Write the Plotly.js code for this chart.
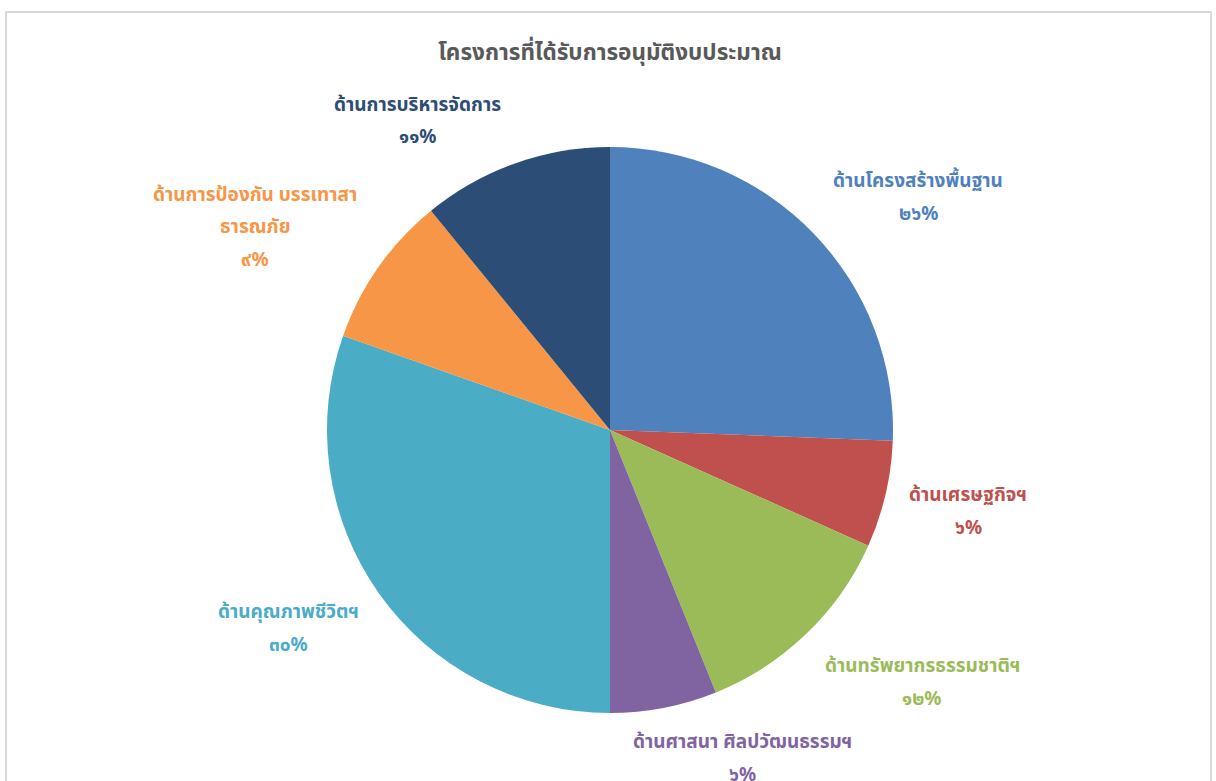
<!DOCTYPE html>
<html>
<head>
<meta charset="utf-8">
<script src="https://cdn.plot.ly/plotly-3.0.1.min.js"></script>
<style>
  html, body { margin: 0; padding: 0; background: #ffffff; overflow: hidden; }
  #frame { position: absolute; left: 5px; top: 11px; width: 1207px; height: 800px;
           border: 2px solid #d9d9d9; box-sizing: border-box; }
  #chart { position: absolute; left: 0; top: 0; width: 1216px; height: 781px; }
</style>
</head>
<body>
<div id="frame"></div>
<div id="chart"></div>
<script>
// ---- data ----
const categories = [
  "ด้านโครงสร้างพื้นฐาน",
  "ด้านเศรษฐกิจฯ",
  "ด้านทรัพยากรธรรมชาติฯ",
  "ด้านศาสนา ศิลปวัฒนธรรมฯ",
  "ด้านคุณภาพชีวิตฯ",
  "ด้านการป้องกัน บรรเทาสา<br>ธารณภัย",
  "ด้านการบริหารจัดการ"
];
const values = [25.6, 6.1, 12.2, 6.1, 30.4, 8.7, 10.9];
const colors = ["#4F81BD", "#C0504D", "#9BBB59", "#8064A2", "#4BACC6", "#F79646", "#2C4D75"];

// label centre positions in pixels (text placement only)
const labelPos = [
  [918, 180], [968, 494], [922, 665], [742, 741], [288, 611], [255, 194], [417, 104]
];

const W = 1216, H = 781;
const thaiDigits = "๐๑๒๓๔๕๖๗๘๙";
function toThai(n) { return String(n).replace(/[0-9]/g, d => thaiDigits[+d]); }
const total = values.reduce((a, b) => a + b, 0);
const pctLabels = values.map(v => toThai(Math.round(v / total * 100)) + "%");

const FONT = "Noto Sans, Noto Sans Thai, Loma, Tahoma, sans-serif";
const LINE = 32.5;

const annotations = [];
categories.forEach((c, i) => {
  const lines = c.split("<br>").concat([pctLabels[i]]);
  lines.forEach((t, j) => {
    annotations.push({
      text: "<b>" + t + "</b>",
      x: labelPos[i][0] / W,
      y: 1 - (labelPos[i][1] + j * LINE) / H,
      xref: "paper", yref: "paper",
      xanchor: "center", yanchor: "middle",
      showarrow: false,
      font: { family: FONT, size: 19, color: colors[i] }
    });
  });
});

const cx = 610, cy = 430, r = 283;
const trace = {
  type: "pie",
  labels: categories,
  values: values,
  sort: false,
  direction: "clockwise",
  rotation: 0,
  textinfo: "none",
  marker: { colors: colors, line: { width: 0 } },
  domain: { x: [(cx - r) / W, (cx + r) / W], y: [1 - (cy + r) / H, 1 - (cy - r) / H] },
  showlegend: false,
  hoverinfo: "label+percent"
};

const layout = {
  width: W, height: H,
  margin: { l: 0, r: 0, t: 0, b: 0 },
  paper_bgcolor: "rgba(0,0,0,0)",
  plot_bgcolor: "rgba(0,0,0,0)",
  title: {
    text: "<b>โครงการที่ได้รับการอนุมัติงบประมาณ</b>",
    x: 610 / W, xanchor: "center",
    y: 1 - 52 / H, yanchor: "middle",
    font: { family: FONT, size: 22.5, color: "#595959" }
  },
  annotations: annotations,
  showlegend: false
};

Plotly.newPlot("chart", [trace], layout, { displayModeBar: false });
</script>
</body>
</html>
